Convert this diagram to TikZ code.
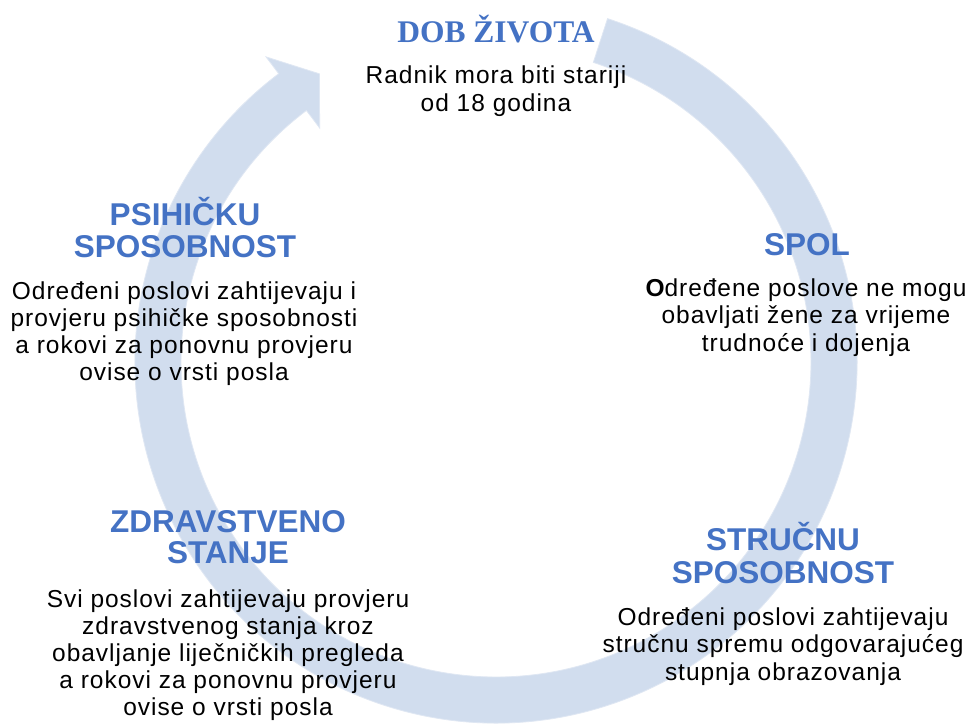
\documentclass[tikz,border=0pt]{standalone}
\usepackage{fontspec}
\setmainfont{Liberation Sans}
\newfontfamily\bodyfont{Liberation Sans}[LetterSpace=4]
\newfontfamily\headfont{Liberation Sans}
\newfontfamily\titlefont{Liberation Serif}
\definecolor{headblue}{HTML}{4472C4}
\definecolor{ringblue}{HTML}{D1DDEE}
\newcommand{\txtblock}[2]{\vtop{\baselineskip=#1\lineskiplimit=-1000pt\lineskip=0pt\halign{\hfil##\hfil\cr#2\crcr}}}
\tikzset{
  titletext/.style={anchor=base, inner sep=0pt, text=headblue, font=\titlefont\bfseries\fontsize{31.5}{32}\selectfont},
  headtext/.style={anchor=base, inner sep=0pt, text=headblue, font=\headfont\bfseries\fontsize{31.5}{32}\selectfont},
  bodytext/.style={anchor=base, inner sep=0pt, text=black, font=\bodyfont\fontsize{24.5}{27.3}\selectfont},
  ringfill/.style={fill=ringblue, draw=ringblue!70!white, line width=0.8pt},
}
\begin{document}
\begin{tikzpicture}[x=1pt,y=1pt]
\useasboundingbox (0,0) rectangle (975,-724);
\fill[white] (0,0) rectangle (975,-724);
% circular arrow ring
\begin{scope}[shift={(496,-362)}]
\filldraw[ringfill] (72:361) arc[start angle=72,end angle=-233,radius=361]
  -- (-233:382) -- (-238.5:338) -- (-233:293) -- (-233:315)
  arc[start angle=-233,end angle=72,radius=315] -- cycle;
\end{scope}
% top
\node[titletext] (dobT) at (496,-42) {DOB ŽIVOTA};
\node[bodytext] (dobB) at (496,-83) {\txtblock{28pt}{Radnik mora biti stariji\cr od 18 godina}};
% right
\node[headtext] (spolT) at (807,-255) {SPOL};
\node[bodytext] (spolB) at (806,-296) {\txtblock{27.5pt}{{\bfseries O}dređene poslove ne mogu\cr obavljati žene za vrijeme\cr trudnoće i dojenja}};
\node[headtext] (strT) at (783,-550) {\txtblock{33pt}{STRUČNU\cr SPOSOBNOST}};
\node[bodytext] (strB) at (783,-625) {\txtblock{27.5pt}{Određeni poslovi zahtijevaju\cr stručnu spremu odgovarajućeg\cr stupnja obrazovanja}};
% left
\node[headtext] (psiT) at (185,-225) {\txtblock{32pt}{PSIHIČKU\cr SPOSOBNOST}};
\node[bodytext] (psiB) at (184,-299) {\txtblock{27.3pt}{Određeni poslovi zahtijevaju i\cr provjeru psihičke sposobnosti\cr a rokovi za ponovnu provjeru\cr ovise o vrsti posla}};
\node[headtext] (zdrT) at (228,-532) {\txtblock{31pt}{ZDRAVSTVENO\cr STANJE}};
\node[bodytext] (zdrB) at (228,-607) {\txtblock{27pt}{Svi poslovi zahtijevaju provjeru\cr zdravstvenog stanja kroz\cr obavljanje liječničkih pregleda\cr a rokovi za ponovnu provjeru\cr ovise o vrsti posla}};
\end{tikzpicture}
\end{document}
